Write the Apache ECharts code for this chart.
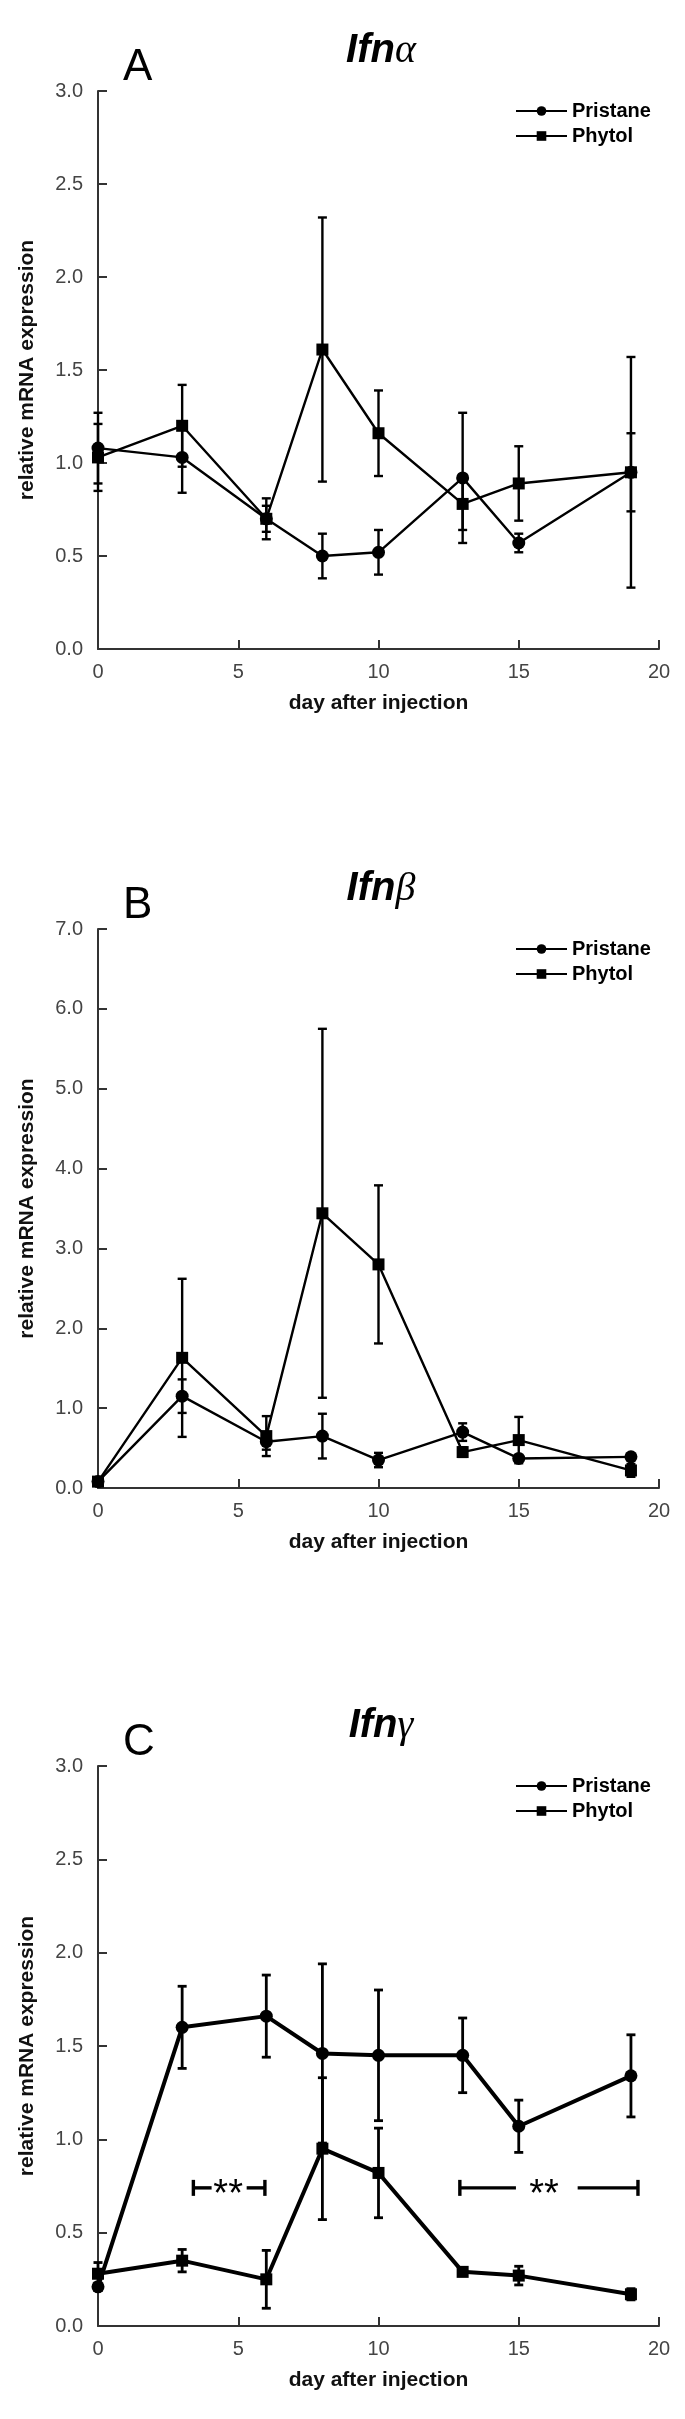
<!DOCTYPE html>
<html>
<head>
<meta charset="utf-8">
<script src="https://cdn.jsdelivr.net/npm/echarts@6/dist/echarts.min.js"></script>
<style>
html,body{margin:0;padding:0;background:#fff;}
#chart{width:685px;height:2419px;}
</style>
</head>
<body>
<div id="chart"></div>
<script>
// ---------------- data ----------------
const days = [0, 3, 6, 8, 10, 13, 15, 19];
const xTicks = [0, 5, 10, 15, 20];
const seriesNames = ['Pristane', 'Phytol'];
const panelLetters = ['A', 'B', 'C'];
const geneNames = ['Ifn', 'Ifn', 'Ifn'];
const geneGreek = ['α', 'β', 'γ'];
const yMaxes = [3, 7, 3];
const yIntervals = [0.5, 1, 0.5];

// Ifn-alpha
const ifnaPristane    = [1.08, 1.03, 0.70, 0.50, 0.52, 0.92, 0.57, 0.95];
const ifnaPristaneSD  = [0.19, 0.19, 0.11, 0.12, 0.12, 0.35, 0.05, 0.21];
const ifnaPhytol      = [1.03, 1.20, 0.70, 1.61, 1.16, 0.78, 0.89, 0.95];
const ifnaPhytolSD    = [0.18, 0.22, 0.07, 0.71, 0.23, 0.14, 0.20, 0.62];
// Ifn-beta
const ifnbPristane    = [0.08, 1.15, 0.58, 0.65, 0.35, 0.70, 0.37, 0.39];
const ifnbPristaneSD  = [0.03, 0.21, 0.10, 0.28, 0.09, 0.11, 0.03, 0.03];
const ifnbPhytol      = [0.08, 1.63, 0.65, 3.44, 2.80, 0.45, 0.60, 0.22];
const ifnbPhytolSD    = [0.03, 0.99, 0.25, 2.31, 0.99, 0.06, 0.29, 0.08];
// Ifn-gamma
const ifngPristane    = [0.21, 1.60, 1.66, 1.46, 1.45, 1.45, 1.07, 1.34];
const ifngPristaneSD  = [0.02, 0.22, 0.22, 0.48, 0.35, 0.20, 0.14, 0.22];
const ifngPhytol      = [0.28, 0.35, 0.25, 0.95, 0.82, 0.29, 0.27, 0.17];
const ifngPhytolSD    = [0.06, 0.06, 0.155, 0.38, 0.24, 0.02, 0.05, 0.03];

// significance bars (panel C): [fromDay, toDay, level, starsDay, gapFrom, gapTo, label]
const sigBars = [
  [3.4, 5.95, 0.74, 4.64, 4.05, 5.3, '**'],
  [12.9, 19.25, 0.74, 15.9, 14.9, 17.1, '**']
];

// ---------------- layout ----------------
const FONT = '"Liberation Sans", Arial, sans-serif';
const gridTops = [91, 929, 1766];
const gridHeights = [558, 559, 560];
const gridLeft = 98, gridWidth = 561;
const lineWidths = [2.4, 2.4, 4];

const panels = [
  [ifnaPristane, ifnaPristaneSD, ifnaPhytol, ifnaPhytolSD],
  [ifnbPristane, ifnbPristaneSD, ifnbPhytol, ifnbPhytolSD],
  [ifngPristane, ifngPristaneSD, ifngPhytol, ifngPhytolSD]
];

const grids = [], xAxes = [], yAxes = [], series = [], legends = [], graphics = [];

panels.forEach((p, i) => {
  grids.push({left: gridLeft, top: gridTops[i], width: gridWidth, height: gridHeights[i], containLabel: false});
  xAxes.push({
    type: 'value', gridIndex: i, min: 0, max: 20, interval: 5,
    axisLine: {show: true, onZero: false, lineStyle: {color: '#333', width: 2}},
    axisTick: {show: true, inside: true, length: 9, lineStyle: {color: '#333', width: 2}},
    splitLine: {show: false},
    axisLabel: {color: '#444', fontSize: 20, margin: 13, fontFamily: FONT},
    name: 'day after injection', nameLocation: 'middle', nameGap: 44,
    nameTextStyle: {fontSize: 21, fontWeight: 'bold', color: '#111', fontFamily: FONT}
  });
  yAxes.push({
    type: 'value', gridIndex: i, min: 0, max: yMaxes[i], interval: yIntervals[i],
    axisLine: {show: true, lineStyle: {color: '#333', width: 2}},
    axisTick: {show: true, inside: true, length: 9, lineStyle: {color: '#333', width: 2}},
    splitLine: {show: false},
    axisLabel: {color: '#444', fontSize: 20, margin: 15, fontFamily: FONT, formatter: v => v.toFixed(1)},
    name: 'relative mRNA expression', nameLocation: 'middle', nameGap: 60,
    nameTextStyle: {fontSize: 21, fontWeight: 'bold', color: '#111', fontFamily: FONT}
  });
  const [m1, s1, m2, s2] = p;
  const defs = [[seriesNames[0], 'circle', 13, m1, s1], [seriesNames[1], 'rect', 12, m2, s2]];
  defs.forEach(([name, sym, size, mean, sd]) => {
    series.push({
      type: 'custom', xAxisIndex: i, yAxisIndex: i, silent: true, z: 3,
      data: days.map((d, k) => [d, mean[k] - sd[k], mean[k] + sd[k]]),
      renderItem: (params, api) => {
        const lo = api.coord([api.value(0), api.value(1)]);
        const hi = api.coord([api.value(0), api.value(2)]);
        const cw = 4.5;
        const st = {stroke: '#000', lineWidth: i === 2 ? 2.8 : 2.4};
        return {type: 'group', children: [
          {type: 'line', shape: {x1: lo[0], y1: lo[1], x2: hi[0], y2: hi[1]}, style: st},
          {type: 'line', shape: {x1: lo[0] - cw, y1: lo[1], x2: lo[0] + cw, y2: lo[1]}, style: st},
          {type: 'line', shape: {x1: hi[0] - cw, y1: hi[1], x2: hi[0] + cw, y2: hi[1]}, style: st}
        ]};
      }
    });
    series.push({
      name: name, type: 'line', xAxisIndex: i, yAxisIndex: i, z: 4,
      data: days.map((d, k) => [d, mean[k]]),
      symbol: sym, symbolSize: size, showAllSymbol: true,
      lineStyle: {color: '#000', width: lineWidths[i]},
      itemStyle: {color: '#000'},
      emphasis: {disabled: true}, animation: false
    });
  });
  legends.push({
    orient: 'vertical', left: 510, top: gridTops[i] + 5,
    data: seriesNames, itemWidth: 51, itemHeight: 12, itemGap: 5,
    selectedMode: false,
    textStyle: {fontSize: 20, fontWeight: 'bold', color: '#000', fontFamily: FONT, lineHeight: 18}
  });
  graphics.push({
    type: 'text', x: 381, y: gridTops[i] - 40, silent: true,
    style: {
      text: '{a|' + geneNames[i] + '}{b|' + geneGreek[i] + '}',
      align: 'center', verticalAlign: 'middle',
      rich: {
        a: {fontSize: 40, fontWeight: 'bold', fontStyle: 'italic', fontFamily: FONT, fill: '#000'},
        b: {fontSize: 40, fontWeight: 'normal', fontStyle: 'italic', fontFamily: '"Liberation Serif", serif', fill: '#000'}
      }
    }
  });
  graphics.push({
    type: 'text', x: 123, y: gridTops[i] - 23, silent: true,
    style: {text: panelLetters[i], align: 'left', verticalAlign: 'middle',
      fontSize: 44, fontFamily: FONT, fill: '#000'}
  });
});

// significance bars on panel C
series.push({
  type: 'custom', xAxisIndex: 2, yAxisIndex: 2, silent: true, z: 5,
  data: sigBars.map(b => b.slice(0, 6)),
  renderItem: (params, api) => {
    const b = sigBars[params.dataIndex];
    const y = api.value(2);
    const a = api.coord([api.value(0), y]);
    const z = api.coord([api.value(1), y]);
    const g1 = api.coord([api.value(4), y]);
    const g2 = api.coord([api.value(5), y]);
    const s = api.coord([api.value(3), y]);
    const st = {stroke: '#000', lineWidth: 3.4};
    const ch = 8;
    return {type: 'group', children: [
      {type: 'line', shape: {x1: a[0], y1: a[1], x2: g1[0], y2: a[1]}, style: st},
      {type: 'line', shape: {x1: g2[0], y1: a[1], x2: z[0], y2: a[1]}, style: st},
      {type: 'line', shape: {x1: a[0], y1: a[1] - ch, x2: a[0], y2: a[1] + ch}, style: st},
      {type: 'line', shape: {x1: z[0], y1: z[1] - ch, x2: z[0], y2: z[1] + ch}, style: st},
      {type: 'text', style: {text: b[6], x: s[0], y: s[1] + 8, align: 'center', verticalAlign: 'middle',
        fontSize: 38, fontFamily: FONT, fill: '#000'}}
    ]};
  }
});

const chart = echarts.init(document.getElementById('chart'), null, {renderer: 'canvas'});
chart.setOption({
  animation: false,
  backgroundColor: '#fff',
  grid: grids, xAxis: xAxes, yAxis: yAxes,
  legend: legends,
  series: series,
  graphic: graphics
});
</script>
</body>
</html>
